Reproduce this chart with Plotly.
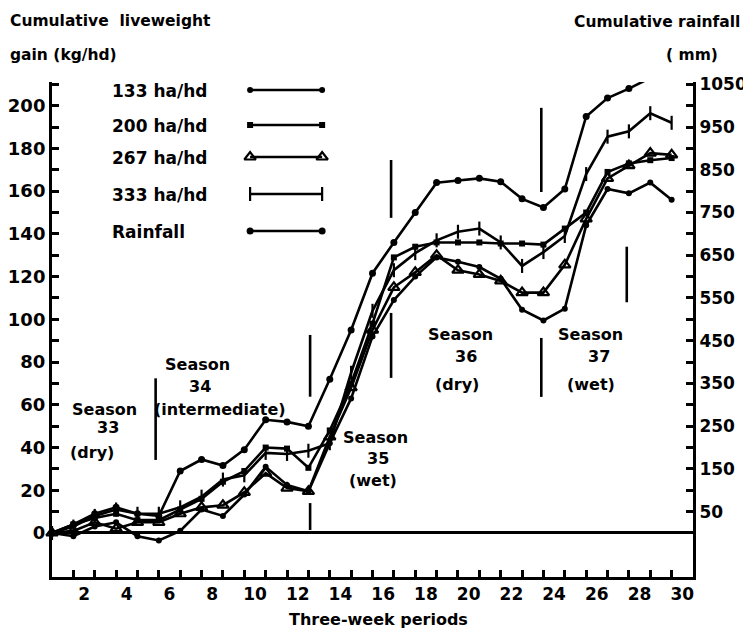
import plotly.graph_objects as go

# ---------------- data ----------------
periods = list(range(0, 30))  # end of each three-week period (0 = start)

gain_133 = [0, -1.5, 3, 5, -1.5, -3.5, 1, 11, 8, 18, 31, 22.5, 19.5, 42, 63, 92,
            109, 120, 129, 127, 124.5, 119, 104.5, 99.5, 105, 144, 161, 159, 164, 156]
gain_200 = [0, 4, 7, 9, 6, 6, 11, 16, 24, 29, 40, 39.5, 30.5, 48, 70, 98,
            129, 134, 136, 136, 136, 135.5, 135.5, 135, 142.5, 150, 169, 173, 174.5, 175.5]
gain_267 = [0, 1, 5, 2, 5, 5, 9, 12, 13, 19, 28, 21, 19.5, 45, 68, 95,
            115, 122, 130, 123, 121, 118, 112.5, 112.5, 125.5, 147, 166, 172, 177.8, 177]
gain_333 = [0, 3, 8, 11, 9, 9, 12, 17, 25, 27, 37.5, 37, 38.5, 42, 75, 104,
            123, 131, 137, 141, 142.5, 136, 125, 131.5, 139, 168, 185.5, 188, 196.5, 192]
rainfall_mm = [0, 20, 45, 60, 45, 40, 145, 172, 158, 195, 265, 260, 250, 360, 475, 608,
               680, 750, 820, 825, 830, 822, 782, 762, 805, 975, 1018, 1040, 1065, 1072]

series_names = ["133 ha/hd", "200 ha/hd", "267 ha/hd", "333 ha/hd", "Rainfall"]

left_tick_vals = list(range(0, 211, 10))
left_tick_text = [str(v) if v % 20 == 0 else "" for v in left_tick_vals]
right_tick_vals = list(range(50, 1051, 50))
right_tick_text = [str(v) if v % 100 == 50 else "" for v in right_tick_vals]
x_label_periods = list(range(2, 31, 2))
x_label_text = [str(p) for p in x_label_periods]
x_boundary_ticks = list(range(1, 30))

# ---------------- style ----------------
FONT = "DejaVu Sans"
INK = "black"
LW = 2.6

# the page body has an 8px margin: the figure starts at (8, 8) of the window
OFF = 8
WIN_W, WIN_H = 751, 632
FIG_W, FIG_H = WIN_W - OFF, WIN_H - OFF
# plot area in window pixels
L, R, T, B = 52, 58.3, 82, 55
PW, PH = WIN_W - L - R, WIN_H - T - B


def px(X):
    return (X - L) / PW


def py(Y):
    return (WIN_H - B - Y) / PH


marker_styles = [
    dict(symbol="circle", size=6, color=INK),
    dict(symbol="square", size=6, color=INK),
    dict(symbol="triangle-up-open", size=10, color=INK, line=dict(color=INK, width=2.2)),
    dict(symbol="line-ns", size=10, color=INK, line=dict(color=INK, width=2.2)),
    dict(symbol="circle", size=7, color=INK),
]

gain_series = [gain_133, gain_200, gain_267, gain_333]

fig = go.Figure()
for name, vals, mk in zip(series_names[:4], gain_series, marker_styles[:4]):
    fig.add_trace(go.Scatter(x=periods, y=vals, name=name, mode="lines+markers",
                             line=dict(color=INK, width=LW), marker=mk,
                             cliponaxis=False, showlegend=False))
fig.add_trace(go.Scatter(x=periods, y=rainfall_mm, name=series_names[4], yaxis="y2",
                         mode="lines+markers", line=dict(color=INK, width=LW),
                         marker=marker_styles[4], cliponaxis=False, showlegend=False))

# hand-drawn style legend: text on the left, sample line on the right
legend_rows_px = [90, 125, 157, 194, 231]
legend_text_x = 110
legend_line_x = (250, 322)
annotations = []
for name, Y, mk in zip(series_names, legend_rows_px, marker_styles):
    fig.add_trace(go.Scatter(x=[px(legend_line_x[0]), px(legend_line_x[1])], y=[py(Y), py(Y)],
                             xaxis="x3", yaxis="y3", mode="lines+markers",
                             line=dict(color=INK, width=LW), marker=mk,
                             cliponaxis=False, showlegend=False, hoverinfo="skip"))
    annotations.append(dict(x=px(legend_text_x), y=py(Y + 1), xref="paper", yref="paper",
                            text=name, showarrow=False, xanchor="left", yanchor="middle",
                            font=dict(family=FONT, size=17, color=INK, weight="bold")))

# axis titles (placed as in the original drawing)
titles = [
    ("Cumulative  liveweight", 8, 21, "left", 15.5),
    ("gain (kg/hd)", 8, 55, "left", 15.5),
    ("Cumulative rainfall", 742, 22, "right", 15.5),
    ("( mm)", 692, 55, "center", 15.5),
    ("Three-week periods", 378, 619, "center", 16),
]
for text, X, Y, anchor, size in titles:
    annotations.append(dict(x=px(X), y=py(Y), xref="paper", yref="paper", text=text,
                            showarrow=False, xanchor=anchor, yanchor="middle",
                            font=dict(family=FONT, size=size, color=INK, weight="bold")))

# season labels (x in periods, y in kg/hd)
season_labels = [
    ("Season", 2.45, 57.6), ("33", 2.62, 49.2), ("(dry)", 1.87, 37.9),
    ("Season", 6.8, 78.7), ("34", 6.93, 68.5), ("(intermediate)", 7.87, 57.9),
    ("Season", 15.12, 44.5), ("35", 15.26, 35.1), ("(wet)", 15.03, 24.8),
    ("Season", 19.1, 92.7), ("36", 19.37, 82.5), ("(dry)", 18.96, 69.3),
    ("Season", 25.19, 92.7), ("37", 25.6, 82.5), ("(wet)", 25.22, 69.3),
]
for text, xv, yv in season_labels:
    annotations.append(dict(x=xv, y=yv, xref="x", yref="y", text=text, showarrow=False,
                            xanchor="center", yanchor="middle",
                            font=dict(family=FONT, size=16, color=INK, weight="bold")))

# season dividers (x in periods, y range in kg/hd)
dividers = [
    (4.85, 34.2, 72.4),
    (12.08, 63.8, 92.7), (12.08, 1.4, 14.0),
    (15.87, 147.5, 174.6), (15.87, 72.6, 103.0),
    (22.9, 159.6, 199.0), (22.9, 63.7, 91.3),
    (26.9, 213.0, 222.0), (26.9, 108.0, 134.0),
]
shapes = [dict(type="line", xref="x", yref="y", x0=xv, x1=xv, y0=a, y1=b,
               line=dict(color=INK, width=2.6)) for xv, a, b in dividers]

y_range = [-20.6, 211.1]
tickfont = dict(family=FONT, size=17, color=INK, weight="bold")
left_tickfont = dict(family=FONT, size=18, color=INK, weight="bold")

fig.update_layout(
    width=FIG_W, height=FIG_H,
    margin=dict(l=L - OFF, r=R, t=T - OFF, b=B, autoexpand=False),
    paper_bgcolor="white", plot_bgcolor="white",
    showlegend=False,
    annotations=annotations,
    shapes=shapes,
    xaxis=dict(range=[0, 30], showgrid=False, zeroline=False, automargin=False,
               showline=True, linecolor=INK, linewidth=3,
               tickmode="array", tickvals=[p - 0.5 for p in x_label_periods],
               ticktext=x_label_text, ticks="", tickfont=tickfont,
               minor=dict(tickmode="array", tickvals=x_boundary_ticks, ticks="inside",
                          ticklen=7, tickwidth=2.5, tickcolor=INK)),
    yaxis=dict(range=y_range, showgrid=False, zeroline=True, zerolinecolor=INK,
               zerolinewidth=2.6, showline=True, linecolor=INK, linewidth=3, automargin=False,
               tickmode="array", tickvals=left_tick_vals, ticktext=left_tick_text,
               ticks="inside", ticklen=7, tickwidth=2.5, tickcolor=INK, tickfont=left_tickfont),
    yaxis2=dict(range=[y_range[0] * 5, y_range[1] * 5], overlaying="y", side="right",
                showgrid=False, zeroline=False, showline=True, linecolor=INK, linewidth=3,
                automargin=False,
                tickmode="array", tickvals=right_tick_vals, ticktext=right_tick_text,
                ticks="inside", ticklen=7, tickwidth=2.5, tickcolor=INK, tickfont=tickfont),
    xaxis3=dict(overlaying="x", range=[0, 1], visible=False, automargin=False),
    yaxis3=dict(overlaying="y", range=[0, 1], visible=False, automargin=False),
)

fig.write_html("out.html")
